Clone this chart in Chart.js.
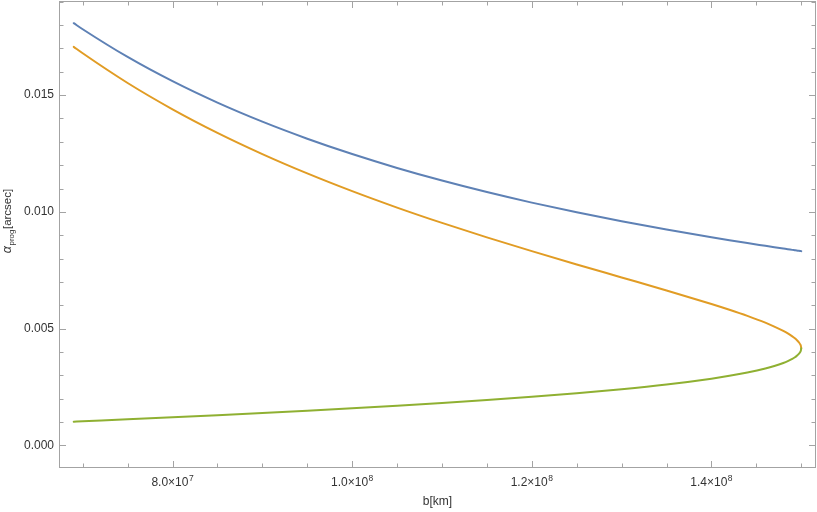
<!DOCTYPE html>
<html>
<head>
<meta charset="utf-8">
<script src="https://cdn.jsdelivr.net/npm/chart.js@4"></script>
<style>
  html, body { margin: 0; padding: 0; background: #fff; }
  #wrap { width: 817px; height: 512px; }
</style>
</head>
<body>
<div id="wrap"><canvas id="plot" width="817" height="512"></canvas></div>
<script>
// values
const bValues = [6.9e7, 7.0e7, 7.5e7, 8.0e7, 8.5e7, 9.0e7, 9.5e7, 1.0e8, 1.05e8, 1.1e8, 1.15e8, 1.2e8, 1.25e8, 1.3e8, 1.35e8,
  1.4e8, 1.42e8, 1.44e8, 1.46e8, 1.47e8, 1.48e8, 1.485e8, 1.49e8, 1.4925e8, 1.495e8, 1.4975e8, 1.499e8, 1.4995e8, 1.5e8];
const blueAlpha = [0.018080, 0.017821, 0.016633, 0.015594, 0.014676, 0.013861, 0.013132, 0.012475, 0.011881, 0.011341, 0.010848, 0.010396, 0.009980, 0.009596, 0.009241,
  0.008911, 0.008785, 0.008663, 0.008545, 0.008486, 0.008429, 0.008401, 0.008372, 0.008358, 0.008344, 0.008331, 0.008322, 0.008319, 0.008317];
const orangeAlpha = [0.017067, 0.016791, 0.015519, 0.014393, 0.013384, 0.012475, 0.011647, 0.010887, 0.010183, 0.009526, 0.008906, 0.008317, 0.007748, 0.007192, 0.006635,
  0.006055, 0.005808, 0.005544, 0.005253, 0.005087, 0.004900, 0.004793, 0.004669, 0.004597, 0.004512, 0.004406, 0.004313, 0.004267, 0.004159];
const greenAlpha = [0.001013, 0.001030, 0.001114, 0.001201, 0.001292, 0.001386, 0.001485, 0.001588, 0.001698, 0.001815, 0.001942, 0.002079, 0.002232, 0.002404, 0.002606,
  0.002856, 0.002977, 0.003119, 0.003292, 0.003399, 0.003529, 0.003608, 0.003703, 0.003762, 0.003832, 0.003925, 0.004009, 0.004052, 0.004159];

const xMajorTicks = [8.0e7, 1.0e8, 1.2e8, 1.4e8];
const xTickMantissa = ['8.0', '1.0', '1.2', '1.4'];
const xTickExponent = ['7', '8', '8', '8'];
const xMinorTicks = [7.0e7, 7.5e7, 8.5e7, 9.0e7, 9.5e7, 1.05e8, 1.1e8, 1.15e8, 1.25e8, 1.3e8, 1.35e8, 1.45e8, 1.5e8];
const yMajorTicks = [0, 0.005, 0.010, 0.015];
const yTickLabels = ['0.000', '0.005', '0.010', '0.015'];
const yMinorTicks = [0.001, 0.002, 0.003, 0.004, 0.006, 0.007, 0.008, 0.009, 0.011, 0.012, 0.013, 0.014, 0.016, 0.017, 0.018, 0.019];

const FONT = '"Liberation Sans", Arial, sans-serif';
const FRAME = '#a3a3a3';
const TEXT = '#333';

function toPoints(ys) {
  return bValues.map((b, i) => ({ x: b, y: ys[i] }));
}

// Mathematica-like frame: box, inward ticks on all sides, labels, titles
const framePlugin = {
  id: 'frame',
  beforeDatasetsDraw(chart) {
    const { ctx, chartArea: a, scales: { x, y } } = chart;
    ctx.save();
    ctx.strokeStyle = FRAME;
    ctx.lineWidth = 1;
    ctx.strokeRect(a.left + 0.5, a.top + 0.5, a.right - a.left - 1, a.bottom - a.top - 1);

    ctx.beginPath();
    const xTick = (v, len) => {
      const px = Math.round(x.getPixelForValue(v)) + 0.5;
      ctx.moveTo(px, a.bottom); ctx.lineTo(px, a.bottom - len);
      ctx.moveTo(px, a.top); ctx.lineTo(px, a.top + len);
    };
    const yTick = (v, len) => {
      const py = Math.round(y.getPixelForValue(v)) + 0.5;
      ctx.moveTo(a.left, py); ctx.lineTo(a.left + len, py);
      ctx.moveTo(a.right, py); ctx.lineTo(a.right - len, py);
    };
    xMajorTicks.forEach(v => xTick(v, 7));
    xMinorTicks.forEach(v => xTick(v, 4.5));
    yMajorTicks.forEach(v => yTick(v, 7));
    yMinorTicks.forEach(v => yTick(v, 4.5));
    ctx.stroke();

    ctx.fillStyle = TEXT;
    ctx.font = '12px ' + FONT;
    ctx.textAlign = 'right';
    ctx.textBaseline = 'middle';
    yMajorTicks.forEach((v, i) => ctx.fillText(yTickLabels[i], a.left - 5, y.getPixelForValue(v)));

    // x tick labels as mantissa×10 with a raised exponent
    ctx.textAlign = 'left';
    ctx.textBaseline = 'alphabetic';
    const fB = '12px ' + FONT, fE = '8.5px ' + FONT;
    xMajorTicks.forEach((v, i) => {
      const base = xTickMantissa[i] + '×10';
      ctx.font = fB; const wB = ctx.measureText(base).width;
      ctx.font = fE; const wE = ctx.measureText(xTickExponent[i]).width;
      const left = x.getPixelForValue(v) - (wB + wE + 0.5) / 2;
      const baseY = a.bottom + 18;
      ctx.font = fB; ctx.fillText(base, left, baseY);
      ctx.font = fE; ctx.fillText(xTickExponent[i], left + wB + 0.5, baseY - 5);
    });

    // x title
    ctx.font = '12px ' + FONT;
    ctx.textAlign = 'center';
    ctx.textBaseline = 'middle';
    ctx.fillText('b[km]', (a.left + a.right) / 2, a.bottom + 34);

    // y title: α_prog[arcsec], rotated
    ctx.translate(8, 221);
    ctx.rotate(-Math.PI / 2);
    ctx.textAlign = 'left';
    ctx.textBaseline = 'middle';
    const fA = 'italic 12.5px ' + FONT, fS = '8px ' + FONT, fU = '11.5px ' + FONT;
    ctx.font = fA; const wA = ctx.measureText('α').width;
    ctx.font = fS; const wS = ctx.measureText('prog').width;
    ctx.font = fU; const wU = ctx.measureText('[arcsec]').width;
    let cx = -(wA + wS + wU + 1) / 2;
    ctx.font = fA; ctx.fillText('α', cx, 0); cx += wA + 0.5;
    ctx.font = fS; ctx.fillText('prog', cx, 3.5); cx += wS + 0.5;
    ctx.font = fU; ctx.fillText('[arcsec]', cx, 0);
    ctx.restore();
  }
};

new Chart(document.getElementById('plot'), {
  type: 'scatter',
  data: {
    datasets: [
      { label: 'blue', data: toPoints(blueAlpha), borderColor: '#5E81B5', order: 3 },
      { label: 'orange', data: toPoints(orangeAlpha), borderColor: '#E19C24', order: 2 },
      { label: 'green', data: toPoints(greenAlpha), borderColor: '#8FB032', order: 1 }
    ]
  },
  options: {
    responsive: false,
    animation: false,
    events: [],
    layout: { padding: { left: 59, top: 1, right: 1, bottom: 44 } },
    datasets: {
      scatter: {
        showLine: true,
        pointRadius: 0,
        borderWidth: 2,
        cubicInterpolationMode: 'monotone',
        borderJoinStyle: 'round',
        borderCapStyle: 'round'
      }
    },
    scales: {
      x: { type: 'linear', min: 6.736e7, max: 1.5164e8, display: false },
      y: { type: 'linear', min: -0.00097, max: 0.01903, display: false }
    },
    plugins: { legend: { display: false }, tooltip: { enabled: false } }
  },
  plugins: [framePlugin]
});
</script>
</body>
</html>
